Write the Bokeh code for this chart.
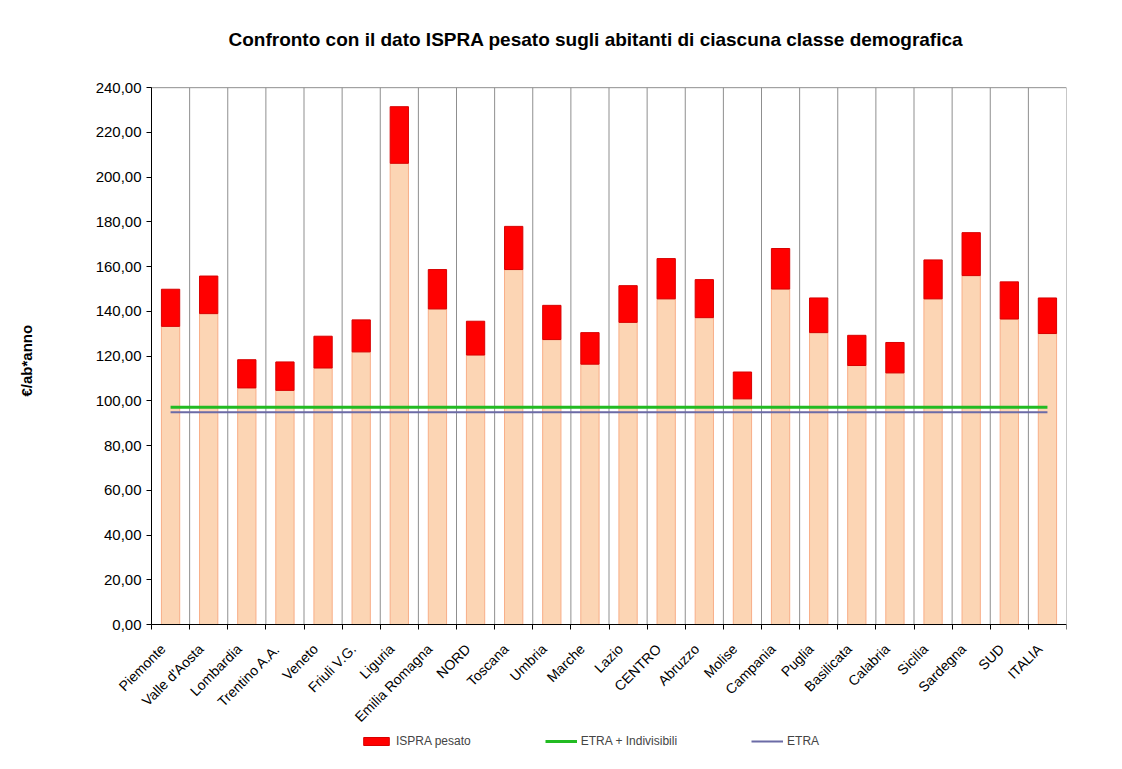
from bokeh.plotting import figure
from bokeh.models import (ColumnDataSource, FixedTicker, Range1d, Legend, LegendItem, Title)
from bokeh.embed import file_html
from bokeh.resources import INLINE
import math

categories = ["Piemonte", "Valle d'Aosta", "Lombardia", "Trentino A.A.", "Veneto",
              "Friuli V.G.", "Liguria", "Emilia Romagna", "NORD", "Toscana", "Umbria",
              "Marche", "Lazio", "CENTRO", "Abruzzo", "Molise", "Campania", "Puglia",
              "Basilicata", "Calabria", "Sicilia", "Sardegna", "SUD", "ITALIA"]

# lower (peach) part of each bar
quota_base = [133.3, 139.0, 105.8, 104.7, 114.7, 121.9, 206.2, 141.1, 120.5, 158.7,
              127.4, 116.4, 135.1, 145.6, 137.2, 100.9, 150.0, 130.5, 115.8, 112.5,
              145.6, 156.0, 136.6, 130.1]
# total height (top of red part) = ISPRA pesato
ispra_pesato = [149.9, 155.8, 118.4, 117.4, 128.9, 136.2, 231.5, 158.7, 135.6, 178.0,
                142.7, 130.5, 151.5, 163.6, 154.2, 112.9, 168.1, 146.0, 129.3, 126.1,
                163.0, 175.2, 153.2, 146.0]
etra_indivisibili = [97.1, 97.1, 97.1, 97.1, 97.1, 97.1, 97.1, 97.1, 97.1, 97.1, 97.1, 97.1,
                     97.1, 97.1, 97.1, 97.1, 97.1, 97.1, 97.1, 97.1, 97.1, 97.1, 97.1, 97.1]
etra = [94.9, 94.9, 94.9, 94.9, 94.9, 94.9, 94.9, 94.9, 94.9, 94.9, 94.9, 94.9,
        94.9, 94.9, 94.9, 94.9, 94.9, 94.9, 94.9, 94.9, 94.9, 94.9, 94.9, 94.9]
y_ticks = [0, 20, 40, 60, 80, 100, 120, 140, 160, 180, 200, 220, 240]
y_tick_labels = ["0,00", "20,00", "40,00", "60,00", "80,00", "100,00", "120,00", "140,00",
                 "160,00", "180,00", "200,00", "220,00", "240,00"]

xs = list(range(len(categories)))
src = ColumnDataSource(dict(x=xs, base=quota_base, tot=ispra_pesato,
                            ei=etra_indivisibili, e=etra))

FONT = "Liberation Sans"
Y0, Y1 = y_ticks[0], y_ticks[-1]
X0, X1 = -0.5, len(categories) - 0.5
Y_ROOM = -63.0   # extra room under the value axis for labels and legend
Y_TOP = 245.0    # a little room above the top tick so its label is not cut
X_ROOM = -3.569  # extra room left of the value axis for its tick labels

p = figure(frame_width=1032, frame_height=689, output_backend="svg", toolbar_location=None,
           x_range=Range1d(X_ROOM, X1), y_range=Range1d(Y_ROOM, Y_TOP),
           min_border_left=34, min_border_right=20, min_border_top=76, min_border_bottom=0)

p.title.text = "Confronto con il dato ISPRA pesato sugli abitanti di ciascuna classe demografica"
p.title.text_font = FONT
p.title.text_font_size = "19px"
p.title.text_font_style = "bold"
p.title.text_color = "black"
p.title.align = "left"
p.title.offset = 194
p.title.standoff = 53

p.outline_line_color = None
p.background_fill_color = "white"
p.border_fill_color = "white"
p.xgrid.grid_line_color = None
p.ygrid.grid_line_color = None

# plot-area frame: vertical separators between categories and top edge
bounds = [i - 0.5 for i in range(len(categories) + 1)]
p.segment(x0=bounds, y0=[Y0] * len(bounds), x1=bounds, y1=[Y1] * len(bounds),
          line_color="#8f8f8f", line_width=1)
p.segment(x0=[X0], y0=[Y1], x1=[X1], y1=[Y1], line_color="#8f8f8f", line_width=1)

# labels sit a little left of the category centre, as in the source chart
label_pos = [i - 0.2 for i in xs]
xticker = FixedTicker(ticks=label_pos, minor_ticks=bounds)
p.xaxis.ticker = xticker
p.xaxis.fixed_location = Y0
p.xaxis.bounds = (X0, X1)
p.xaxis.major_label_overrides = {t: c for t, c in zip(label_pos, categories)}
p.xaxis.major_label_orientation = math.pi / 4
p.xaxis.major_tick_line_color = None
p.xaxis.minor_tick_in = 0
p.xaxis.minor_tick_out = 5
p.xaxis.minor_tick_line_color = "black"
p.xaxis.axis_line_color = "black"
p.xaxis.major_label_text_font = FONT
p.xaxis.major_label_text_font_size = "14px"
p.xaxis.major_label_text_color = "black"
p.xaxis.major_label_standoff = 16

p.yaxis.ticker = FixedTicker(ticks=y_ticks, minor_ticks=[])
p.yaxis.fixed_location = X0
p.yaxis.bounds = (Y0, Y1)
p.yaxis.major_label_overrides = {t: l for t, l in zip(y_ticks, y_tick_labels)}
p.yaxis.major_tick_in = 0
p.yaxis.major_tick_out = 5
p.yaxis.major_tick_line_color = "black"
p.yaxis.axis_line_color = "black"
p.yaxis.major_label_text_font = FONT
p.yaxis.major_label_text_font_size = "15px"
p.yaxis.major_label_text_color = "black"
p.yaxis.major_label_standoff = 5

ylab = Title(text="€/ab*anno", align="left", offset=369, standoff=0,
             text_font=FONT, text_font_size="15px", text_font_style="bold",
             text_color="black")
p.add_layout(ylab, "left")

peach = p.vbar(x="x", top="base", bottom=0, width=0.48, source=src,
               fill_color="#FCD5B4", line_color="#F8AE88", line_width=1)
red = p.vbar(x="x", top="tot", bottom="base", width=0.48, source=src,
             fill_color="#FF0000", line_color="#D80000", line_width=1)
green = p.line(x="x", y="ei", source=src, line_color="#22BB22", line_width=3)
purple = p.line(x="x", y="e", source=src, line_color="#6B6BA6", line_width=2)

legend = Legend(items=[LegendItem(label="ISPRA pesato", renderers=[red]),
                       LegendItem(label="ETRA + Indivisibili", renderers=[green]),
                       LegendItem(label="ETRA", renderers=[purple])],
                orientation="horizontal", location=(326, 17),
                border_line_color=None, background_fill_alpha=0,
                label_text_font=FONT, label_text_font_size="12px",
                glyph_width=32, glyph_height=10, spacing=74, label_standoff=4,
                margin=0, padding=4)
p.add_layout(legend, "center")

open("out.html", "w").write(file_html(p, INLINE))
